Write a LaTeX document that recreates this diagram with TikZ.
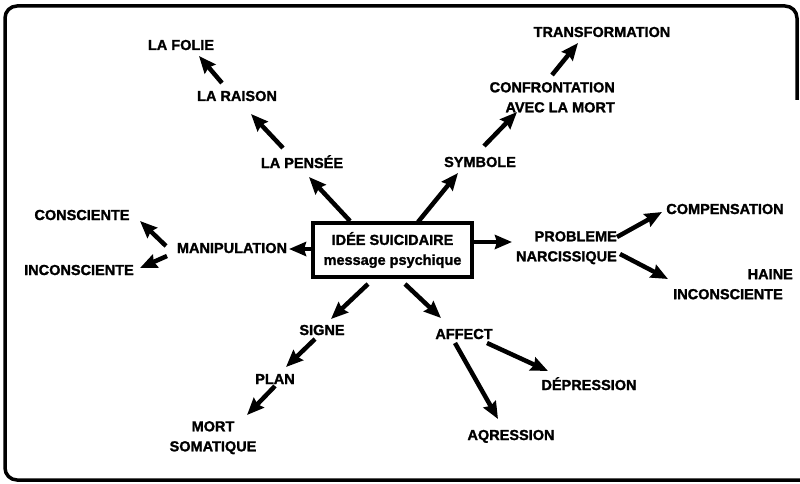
\documentclass[tikz,border=0pt]{standalone}
\usepackage{fontspec}
\setmainfont{Liberation Sans}[BoldFeatures={FakeBold=1.5}]
\usetikzlibrary{arrows.meta}
\tikzset{
  lbl/.style={inner sep=0pt, font=\fontsize{14.5}{20}\selectfont\bfseries},
  arr/.style={line width=4.5pt, -{Stealth[length=17pt,width=14pt,inset=2pt]}},
  frame/.style={line width=3.5pt, rounded corners=12pt},
  mainbox/.style={draw, line width=3.5pt, inner sep=0pt, minimum width=159pt, minimum height=54pt, align=center, font=\fontsize{14.5}{20}\selectfont\bfseries}
}
\begin{document}
\begin{tikzpicture}[x=1pt,y=-1pt]
\useasboundingbox (0,0) rectangle (800,484);
\draw[frame] (797,100) -- (797,6) -- (5,6) -- (5,480) -- (800,480);

\node[mainbox] (box) at (392.5,250) {IDÉE SUICIDAIRE\\message psychique};

\node[lbl, anchor=base] (folie) at (181,50) {LA FOLIE};
\node[lbl, anchor=base] (raison) at (237,101) {LA RAISON};
\node[lbl, anchor=base] (pensee) at (302,168) {LA PENSÉE};
\node[lbl, anchor=base] (consc) at (82,220) {CONSCIENTE};
\node[lbl, anchor=base] (manip) at (232,253) {MANIPULATION};
\node[lbl, anchor=base] (inconsc) at (79,275) {INCONSCIENTE};
\node[lbl, anchor=base] (signe) at (322,335) {SIGNE};
\node[lbl, anchor=base] (plan) at (275,384) {PLAN};
\node[lbl, anchor=north, align=center] (mort) at (213,421) {MORT\\SOMATIQUE};
\node[lbl, anchor=base] (affect) at (464,339) {AFFECT};
\node[lbl, anchor=base] (depr) at (589,390) {DÉPRESSION};
\node[lbl, anchor=base] (agr) at (511,440) {AQRESSION};
\node[lbl, anchor=north east, align=right] (prob) at (617,231) {PROBLEME\\NARCISSIQUE};
\node[lbl, anchor=base] (comp) at (725,214) {COMPENSATION};
\node[lbl, anchor=north east, align=right] (haine) at (793,269) {HAINE\\INCONSCIENTE\hspace*{10pt}};
\node[lbl, anchor=base] (symb) at (480,167) {SYMBOLE};
\node[lbl, anchor=north east, align=right] (conf) at (615,82) {CONFRONTATION\\AVEC LA MORT};
\node[lbl, anchor=base] (transf) at (602,37) {TRANSFORMATION};

\draw[arr] ([shift={(-42.5,-29)}]box.center) -- ([shift={(7,9)}]pensee.base);
\draw[arr] ([shift={(-19,-20)}]pensee.base) -- ([shift={(14,13)}]raison.base);
\draw[arr] ([shift={(-15,-18)}]raison.base) -- ([shift={(18,6)}]folie.base);
\draw[arr] ([shift={(-78.5,-1)}]box.center) -- ([shift={(57,-4)}]manip.base);
\draw[arr] ([shift={(-66,-7)}]manip.base) -- ([shift={(58,1)}]consc.base);
\draw[arr] ([shift={(-65,3)}]manip.base) -- ([shift={(61,-7)}]inconsc.base);
\draw[arr] ([shift={(-24.5,34)}]box.center) -- ([shift={(9,-16)}]signe.base);
\draw[arr] ([shift={(-7,4)}]signe.base) -- ([shift={(11,-17)}]plan.base);
\draw[arr] ([shift={(0,2)}]plan.base) -- ([shift={(34,-6)}]mort.north);
\draw[arr] ([shift={(12.5,34)}]box.center) -- ([shift={(-23,-21)}]affect.base);
\draw[arr] ([shift={(23,4)}]affect.base) -- ([shift={(-41,-19)}]depr.base);
\draw[arr] ([shift={(-9,4)}]affect.base) -- ([shift={(-13,-21)}]agr.base);
\draw[arr] ([shift={(81.5,-8)}]box.center) -- ([shift={(-105,11)}]prob.north east);
\draw[arr] ([shift={(0,6)}]prob.north east) -- ([shift={(-63,-2)}]comp.base);
\draw[arr] ([shift={(3,23)}]prob.north east) -- ([shift={(-125,10)}]haine.north east);
\draw[arr] ([shift={(25.5,-28)}]box.center) -- ([shift={(-22,6)}]symb.base);
\draw[arr] ([shift={(4,-21)}]symb.base) -- ([shift={(-98,30)}]conf.north east);
\draw[arr] ([shift={(-63,-7)}]conf.north east) -- ([shift={(-24,6)}]transf.base);
\end{tikzpicture}
\end{document}
